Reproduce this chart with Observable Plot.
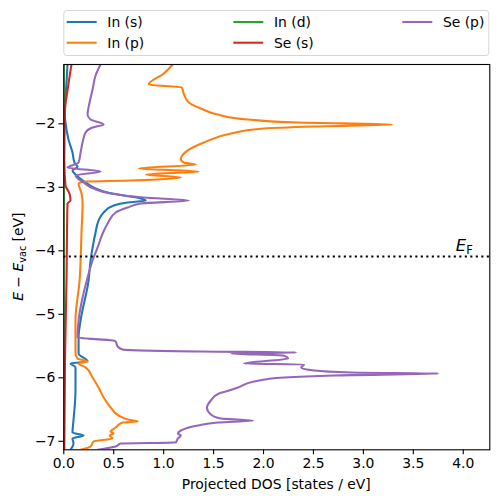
<!DOCTYPE html>
<html>
<head>
<meta charset="utf-8">
<script src="https://cdn.jsdelivr.net/npm/d3@7"></script>
<script src="https://cdn.jsdelivr.net/npm/@observablehq/plot@0.6"></script>
<style>
  html, body { margin: 0; padding: 0; background: #fff; }
  #wrap { position: relative; width: 498px; height: 502px; font-family: "DejaVu Sans", sans-serif; }
  #wrap svg { display: block; }
  #legend { position: absolute; left: 0; top: 0; pointer-events: none; }
</style>
</head>
<body>
<div id="wrap"></div>
<script>
// ---------- data ----------
const seriesNames  = ["In (s)", "In (p)", "In (d)", "Se (s)", "Se (p)"];
const seriesColors = ["#1f77b4", "#ff7f0e", "#2ca02c", "#d62728", "#9467bd"];

const inS_E   = [-1.066,-1.476,-1.775,-1.980,-2.247,-2.452,-2.613,-2.675,-2.737,-2.814,-2.924,-3.003,-3.082,-3.129,-3.176,-3.208,-3.239,-3.287,-3.397,-3.524,-3.713,-3.950,-4.153,-4.468,-5.098,-5.365,-5.617,-5.743,-5.774,-5.837,-6.200,-6.672,-6.861,-6.909,-6.956,-7.035,-7.134];
const inS_dos = [0.037,0.022,0.007,0.017,0.047,0.087,0.107,0.138,0.087,0.128,0.218,0.298,0.439,0.600,0.770,0.820,0.640,0.500,0.399,0.348,0.318,0.288,0.268,0.248,0.168,0.148,0.148,0.238,0.067,0.117,0.117,0.097,0.087,0.198,0.087,0.097,0.067];

const inP_E   = [-1.066,-1.208,-1.381,-1.428,-1.524,-1.665,-1.759,-1.854,-1.932,-1.980,-2.011,-2.043,-2.074,-2.153,-2.294,-2.420,-2.562,-2.609,-2.641,-2.704,-2.751,-2.798,-2.846,-2.893,-2.909,-2.940,-3.098,-3.255,-3.680,-4.468,-5.098,-5.617,-5.696,-5.743,-5.774,-5.837,-5.995,-6.153,-6.310,-6.468,-6.594,-6.657,-6.688,-6.704,-6.783,-6.846,-6.877,-6.909,-6.956,-7.003,-7.082,-7.134];
const inP_dos = [1.091,1.001,0.850,1.182,1.201,1.251,1.372,1.542,1.843,2.346,3.290,2.507,2.005,1.674,1.403,1.241,1.172,1.202,1.322,0.750,1.352,0.820,1.172,0.671,0.218,0.148,0.178,0.188,0.178,0.158,0.117,0.117,0.138,0.238,0.148,0.218,0.288,0.348,0.399,0.469,0.549,0.640,0.740,0.589,0.519,0.469,0.499,0.459,0.489,0.298,0.268,0.168];

const inD_E   = [-1.066,-3.2,-5.6,-7.134];
const inD_dos = [0,0,0,0];

const seS_E   = [-1.066,-1.476,-1.792,-2.578,-2.972,-3.098,-3.208,-3.255,-4.468,-5.728,-7.134];
const seS_dos = [0.077,0.037,0.012,0.005,0.017,0.057,0.067,0.037,0.027,0.012,0.005];

const seP_E   = [-1.066,-1.239,-1.460,-1.665,-1.854,-1.932,-2.011,-2.058,-2.137,-2.294,-2.452,-2.609,-2.690,-2.751,-2.814,-2.924,-3.019,-3.098,-3.161,-3.208,-3.255,-3.318,-3.397,-3.570,-3.728,-3.950,-4.153,-4.420,-5.098,-5.365,-5.413,-5.428,-5.507,-5.554,-5.586,-5.602,-5.617,-5.649,-5.696,-5.774,-5.790,-5.837,-5.885,-5.916,-5.932,-5.963,-5.995,-6.058,-6.153,-6.200,-6.247,-6.357,-6.468,-6.578,-6.641,-6.672,-6.704,-6.751,-6.830,-6.877,-6.909,-6.956,-7.019,-7.035,-7.082,-7.134];
const seP_dos = [0.368,0.318,0.288,0.258,0.238,0.268,0.399,0.288,0.218,0.188,0.168,0.148,0.037,0.368,0.118,0.198,0.298,0.469,0.800,1.252,0.770,0.640,0.519,0.439,0.389,0.338,0.288,0.238,0.148,0.138,0.489,0.519,0.539,0.589,1.372,2.326,1.674,2.196,2.246,1.805,2.407,2.377,2.507,2.878,3.752,2.708,2.206,1.905,1.744,1.654,1.553,1.473,1.433,1.473,1.573,1.895,1.543,1.343,1.172,1.142,1.172,1.142,1.122,0.569,0.519,0.338];

const eFermi = -4.09;
const xDomain = [0, 4.266];
const yDomain = [-7.134, -1.066];
const xTicks = [0, 0.5, 1.0, 1.5, 2.0, 2.5, 3.0, 3.5, 4.0];
const yTicks = [-7, -6, -5, -4, -3, -2];
const efLabelX = 4.0;

// ---------- build ----------
const rows = (E, D) => E.map((e, i) => ({E: e, dos: D[i]}));
const series = [
  rows(inS_E, inS_dos),
  rows(inP_E, inP_dos),
  rows(inD_E, inD_dos),
  rows(seS_E, seS_dos),
  rows(seP_E, seP_dos)
];

const LW = 2.08;
const W = 498, H = 502;
const mL = 63.3, mR = 8.7, mT = 64, mB = 52.7;

const lineMarks = series.map((d, i) =>
  Plot.line(d, {x: "dos", y: "E", stroke: seriesColors[i], strokeWidth: LW,
                strokeLinejoin: "round", curve: "monotone-y", clip: true})
);

const chart = Plot.plot({
  width: W, height: H,
  marginLeft: mL, marginRight: mR, marginTop: mT, marginBottom: mB,
  style: {fontFamily: "DejaVu Sans, sans-serif", fontSize: "13.9px", color: "#000", background: "#fff", overflow: "visible"},
  x: {domain: xDomain},
  y: {domain: yDomain},
  marks: [
    ...lineMarks,
    Plot.ruleY([eFermi], {stroke: "#000", strokeWidth: LW, strokeDasharray: "2.1,3.4"}),
    Plot.frame({stroke: "#000", strokeWidth: 1.1}),
    Plot.axisX({ticks: xTicks, tickFormat: d => d.toFixed(1), tickSize: 4.9, tickPadding: 3.5,
                label: null, strokeWidth: 1.1, fontSize: 13.9}),
    Plot.axisY({ticks: yTicks, tickFormat: d => (d < 0 ? "\u2212" : "") + Math.abs(d), tickSize: 4.9, tickPadding: 3.5,
                label: null, strokeWidth: 1.1, fontSize: 13.9})
  ]
});

const wrap = document.getElementById("wrap");
wrap.appendChild(chart);

const svg = d3.select(chart);
const xs = chart.scale("x"), ys = chart.scale("y");
const xMid = (xs.apply(xDomain[0]) + xs.apply(xDomain[1])) / 2;
const yMid = (ys.apply(yDomain[0]) + ys.apply(yDomain[1])) / 2;

// x label
svg.append("text")
  .attr("x", xMid).attr("y", 488.5)
  .attr("text-anchor", "middle")
  .attr("font-size", 13.9).attr("fill", "#000")
  .text("Projected DOS [states / eV]");

// y label
const yl = svg.append("text")
  .attr("transform", `translate(23,${yMid}) rotate(-90)`)
  .attr("text-anchor", "middle")
  .attr("font-size", 13.9).attr("fill", "#000");
yl.append("tspan").attr("font-style", "italic").text("E");
yl.append("tspan").text(" \u2212 ");
yl.append("tspan").attr("font-style", "italic").text("E");
yl.append("tspan").attr("font-size", 9.7).attr("dy", 2.8).text("vac");
yl.append("tspan").attr("dy", -2.8).text(" [eV]");

// E_F label
const ef = svg.append("text")
  .attr("x", xs.apply(efLabelX) + 1.5)
  .attr("y", ys.apply(eFermi) - 5)
  .attr("font-size", 16.5).attr("fill", "#000");
ef.append("tspan").attr("font-style", "italic").text("E");
ef.append("tspan").attr("font-size", 11.5).attr("dy", 2.5).text("F");

// legend
const leg = d3.select(wrap).append("svg")
  .attr("id", "legend").attr("width", W).attr("height", 60)
  .style("font-family", "DejaVu Sans, sans-serif");
leg.append("rect")
  .attr("x", 63.8).attr("y", 10.5).attr("width", 425).attr("height", 45)
  .attr("rx", 3).attr("ry", 3)
  .attr("fill", "rgba(255,255,255,0.8)").attr("stroke", "#d6d6d6").attr("stroke-width", 1);
const colX = [66.7, 233.3, 402.3];
const rowY = [22, 42.7];
seriesNames.forEach((name, i) => {
  const c = Math.floor(i / 2), r = i % 2;
  const g = leg.append("g");
  g.append("line")
    .attr("x1", colX[c]).attr("x2", colX[c] + 30)
    .attr("y1", rowY[r]).attr("y2", rowY[r])
    .attr("stroke", seriesColors[i]).attr("stroke-width", LW);
  g.append("text")
    .attr("x", colX[c] + 40.6).attr("y", rowY[r] + 5.2)
    .attr("font-size", 13.9).attr("fill", "#000")
    .text(name);
});
</script>
</body>
</html>
